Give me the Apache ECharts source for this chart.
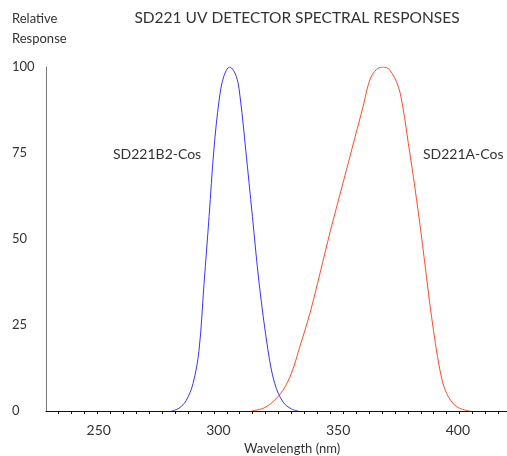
<!DOCTYPE html>
<html>
<head>
<meta charset="utf-8">
<script src="https://cdn.jsdelivr.net/npm/echarts@6/dist/echarts.min.js"></script>
<style>html,body{margin:0;padding:0;background:#fff}#c{width:507px;height:456px}</style>
</head>
<body>
<div id="c"></div>
<script>
// Wavelength (nm), relative response
const blueWl  = [280.4, 283.5, 286.5, 289.4, 291.9, 294.0, 296.1, 298.1, 300.3, 302.2, 304.7, 307.5, 309.2, 311.4, 314.2, 317.0, 320.7, 323.5, 327.0, 330.5, 333.3];
const blueVal = [0,     0.8,   3.0,   8.0,   17.7,  37.1,  56.5,  75.9,  90.4,  97.2,  100,   97.2,  90.4,  75.9,  56.5,  37.1,  17.7,  8.0,   2.6,   0.6,   0];
const redWl   = [313.8, 318.7, 322.8, 327.0, 330.5, 334.0, 338.2, 342.4, 346.8, 352.1, 357.0, 360.4, 363.2, 366.0, 368.8, 371.5, 375.1, 377.2, 379.3, 381.4, 383.9, 386.0, 389.0, 392.5, 395.3, 399.5, 405.0];
const redVal  = [0,     0.8,   2.7,   6.1,   11.0,  18.7,  28.4,  40.0,  52.5,  66.5,  79.5,  88.5,  96.2,  99.3,  100,   99.2,  94.3,  87.5,  77.8,  68.1,  55.5,  44.0,  27.4,  11.9,  5.1,   1.25,  0];
const xLabels = [250, 300, 350, 400];
const xTicks  = [233.3, 238.7, 244.1, 249.5, 254.9, 260.3, 265.7, 271.1, 276.5, 281.9, 287.3, 292.7, 298.1, 303.5, 308.9, 314.3, 319.7, 325.1, 330.5, 335.9, 341.3, 346.7, 352.1, 357.5, 362.9, 368.3, 373.7, 379.1, 384.5, 389.9, 395.3, 400.7, 406.1, 411.5, 416.9];
const yTicks  = [0, 25, 50, 75, 100];
const seriesNames = ['SD221B2-Cos', 'SD221A-Cos'];

const FONT = 'Lato, "Open Sans", sans-serif';
const zip = (a, b) => a.map((v, i) => [v, b[i]]);

const chart = echarts.init(document.getElementById('c'), null, {renderer: 'canvas'});
chart.setOption({
  animation: false,
  backgroundColor: '#fff',
  title: [
    {text: 'SD221 UV DETECTOR SPECTRAL RESPONSES', left: 297, top: 10, padding: 0, textAlign: 'center',
     textStyle: {fontFamily: FONT, fontSize: 15.5, fontWeight: 'normal', color: '#333'}},
    {text: 'Relative\nResponse', left: 12, top: 9, padding: 0,
     textStyle: {fontFamily: FONT, fontSize: 13, fontWeight: 'normal', color: '#333', lineHeight: 20}}
  ],
  grid: {left: 46, right: 0, top: 67, bottom: 45, containLabel: false, outerBoundsMode: 'none'},
  xAxis: {
    type: 'value', min: 228, max: 420.5,
    axisLine: {show: true, lineStyle: {color: '#111', width: 1}},
    axisTick: {show: true, length: 3, customValues: xTicks, lineStyle: {color: '#111'}},
    axisLabel: {customValues: xLabels, margin: 12, fontFamily: FONT, fontSize: 14, color: '#333'},
    splitLine: {show: false}
  },
  yAxis: {
    type: 'value', min: 0, max: 100,
    axisLine: {show: true, lineStyle: {color: '#777', width: 1}},
    axisTick: {show: false},
    axisLabel: {customValues: yTicks, align: 'left', margin: 34, fontFamily: FONT, fontSize: 13, color: '#333'},
    splitLine: {show: false}
  },
  graphic: [
    {type: 'text', left: 291 - 47, top: 442, style: {text: 'Wavelength (nm)', font: '13px ' + FONT, fill: '#333'}},
    {type: 'text', left: 113, top: 147, style: {text: seriesNames[0], font: '14px ' + FONT, fill: '#333'}},
    {type: 'text', left: 423, top: 147, style: {text: seriesNames[1], font: '14px ' + FONT, fill: '#333'}}
  ],
  series: [
    {name: seriesNames[0], type: 'line', data: zip(blueWl, blueVal), smooth: 0.35, showSymbol: false,
     lineStyle: {color: '#3535ff', width: 1}},
    {name: seriesNames[1], type: 'line', data: zip(redWl, redVal), smooth: 0.35, showSymbol: false,
     lineStyle: {color: '#ff4a2a', width: 1}}
  ]
});
</script>
</body>
</html>
